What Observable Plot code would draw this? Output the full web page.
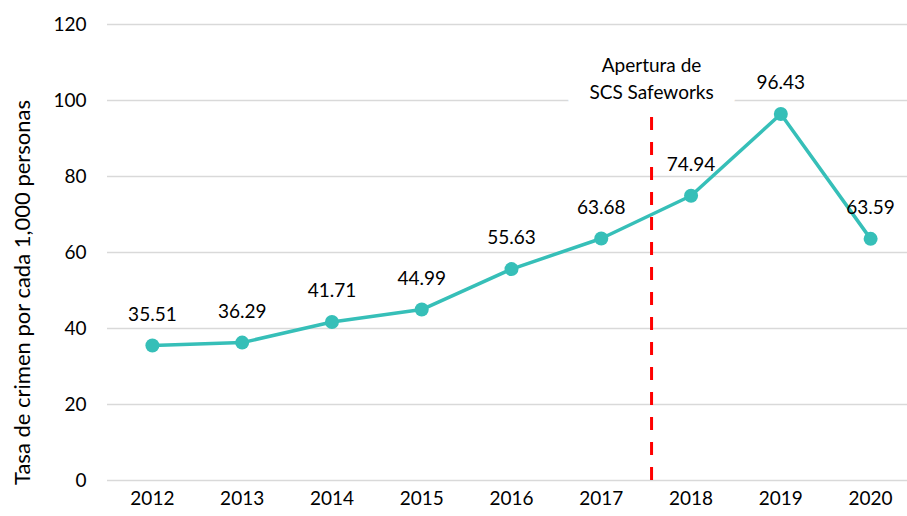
<!DOCTYPE html>
<html>
<head>
<meta charset="utf-8">
<script src="https://cdn.jsdelivr.net/npm/d3@7"></script>
<script src="https://cdn.jsdelivr.net/npm/@observablehq/plot@0.6"></script>
<style>
  html, body { margin: 0; padding: 0; background: #fff; }
  #chart svg { display: block; }
</style>
</head>
<body>
<div id="chart"></div>
<script>
const years = [2012, 2013, 2014, 2015, 2016, 2017, 2018, 2019, 2020];
const rates = [35.51, 36.29, 41.71, 44.99, 55.63, 63.68, 74.94, 96.43, 63.59];
const yTicks = [0, 20, 40, 60, 80, 100, 120];
const openingYear = 2017.56;
const openingLabel = "Apertura de\nSCS Safeworks";
const yTitle = "Tasa de crimen por cada 1,000 personas";

const data = years.map((year, i) => ({year, value: rates[i]}));
const teal = "#36bfb8";
const font = "Lato, 'Open Sans', sans-serif";

const chart = Plot.plot({
  width: 907,
  height: 516,
  marginLeft: 107,
  marginRight: 0,
  marginTop: 24,
  marginBottom: 36,
  style: {fontFamily: font, fontSize: "19px", color: "#000", background: "#fff"},
  x: {domain: [2011.5, 2020.5], range: [107, 915]},
  y: {domain: [0, 120]},
  marks: [
    Plot.ruleY(yTicks, {stroke: "#d9d9d9", strokeWidth: 1.5}),
    Plot.axisX(years, {tickSize: 0, tickPadding: 11, tickFormat: d => String(d), label: null, fontSize: 19}),
    Plot.axisY(yTicks, {tickSize: 0, tickPadding: 21, label: null, fontSize: 19}),
    Plot.text([yTitle], {frameAnchor: "left", textAnchor: "middle", lineAnchor: "middle", rotate: -90, dx: -85, dy: 40, fontSize: 22, fill: "#000"}),
    Plot.text([openingLabel], {x: openingYear, y: 106.3, lineHeight: 1.47, fontSize: 19, fill: "#fff", stroke: "#fff", strokeWidth: 44, strokeLinejoin: "round"}),
    Plot.ruleX([openingYear], {y1: 0, y2: 97.5, stroke: "#ff0000", strokeWidth: 3, strokeDasharray: "13,12"}),
    Plot.text([openingLabel], {x: openingYear, y: 106.3, lineHeight: 1.47, fontSize: 19, fill: "#000"}),
    Plot.line(data, {x: "year", y: "value", stroke: teal, strokeWidth: 3.5}),
    Plot.dot(data, {x: "year", y: "value", r: 7, fill: teal}),
    Plot.text(data, {x: "year", y: "value", text: d => d.value.toFixed(2), dy: -31, fontSize: 19, fill: "#000"})
  ]
});
document.getElementById("chart").appendChild(chart);
</script>
</body>
</html>
